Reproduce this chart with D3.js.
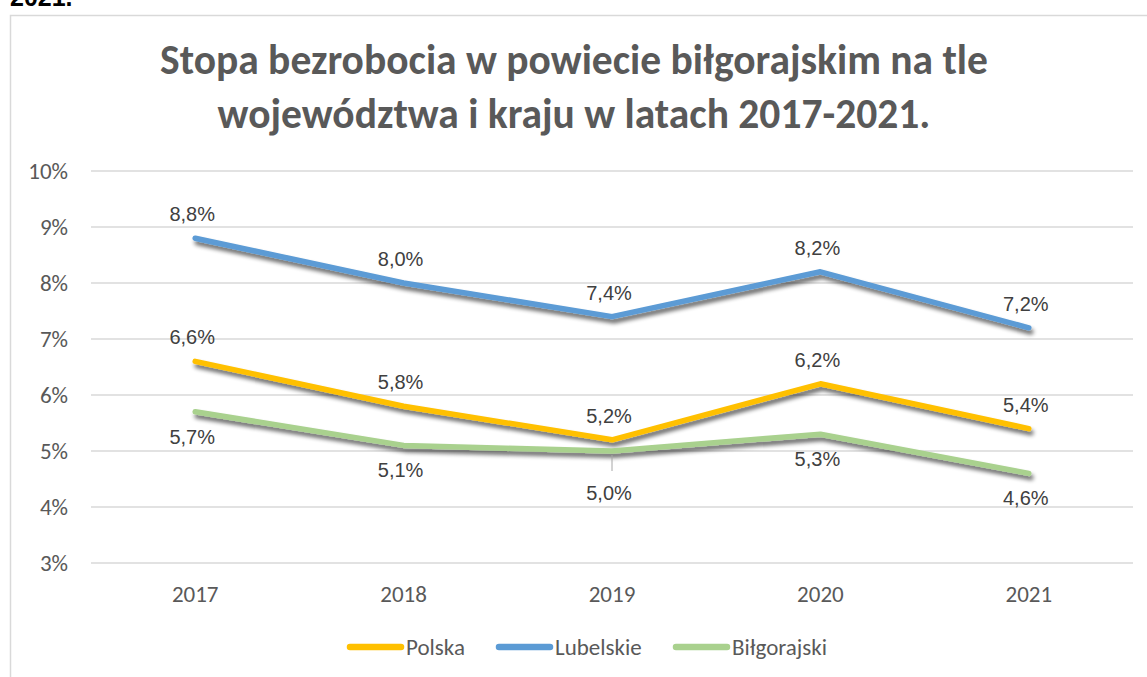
<!DOCTYPE html>
<html>
<head>
<meta charset="utf-8">
<script src="https://cdn.jsdelivr.net/npm/d3@7"></script>
<style>
  body { margin: 0; background: #fff; }
  svg { display: block; }
</style>
</head>
<body>
<svg id="chart" width="1147" height="677"></svg>
<script>
(function(){
	'use strict';

	var years = ['2017', '2018', '2019', '2020', '2021'];
	var polska = [6.6, 5.8, 5.2, 6.2, 5.4];
	var lubelskie = [8.8, 8.0, 7.4, 8.2, 7.2];
	var bilgorajski = [5.7, 5.1, 5.0, 5.3, 4.6];
	var yTicks = [3, 4, 5, 6, 7, 8, 9, 10];
	var titleLines = ['Stopa bezrobocia w powiecie biłgorajskim na tle', 'województwa i kraju w latach 2017-2021.'];

	var series = [
		{ name: 'Polska', values: polska, color: '#FFC000', above: true },
		{ name: 'Lubelskie', values: lubelskie, color: '#5B9BD5', above: true },
		{ name: 'Biłgorajski', values: bilgorajski, color: '#A9D18E', above: false }
	];

	var svg = d3.select('#chart');
	var grey = '#595959';
	var font = 'Carlito, Calibri, "Open Sans", sans-serif';
	var narrow = '"Liberation Sans Narrow", "Arial Narrow", sans-serif';

	// text from the page above the chart, cut off at the top
	svg.append('text')
		.text('2021.')
		.attr('x', 10).attr('y', 6)
		.attr('font-family', '"Liberation Sans", Arial, sans-serif')
		.attr('font-weight', 'bold')
		.attr('font-size', '25px')
		.attr('fill', '#000');

	// chart frame
	svg.append('rect')
		.attr('x', 10.5).attr('y', 15.5)
		.attr('width', 1160).attr('height', 700)
		.attr('fill', '#fff')
		.attr('stroke', '#d9d9d9')
		.attr('stroke-width', 1.5);

	var defs = svg.append('defs');
	var filter = defs.append('filter').attr('id', 'shadow')
		.attr('x', '-10%').attr('y', '-50%').attr('width', '120%').attr('height', '200%');
	filter.append('feGaussianBlur').attr('in', 'SourceAlpha').attr('stdDeviation', 2.2).attr('result', 'blur');
	filter.append('feOffset').attr('dx', 2).attr('dy', 3.5).attr('result', 'off');
	filter.append('feComponentTransfer').append('feFuncA').attr('type', 'linear').attr('slope', 0.6);
	var merge = filter.append('feMerge');
	merge.append('feMergeNode');
	merge.append('feMergeNode').attr('in', 'SourceGraphic');

	// title
	svg.append('g').selectAll('text')
		.data(titleLines)
		.enter().append('text')
		.text(function(d){ return d; })
		.attr('x', 574)
		.attr('y', function(d, i){ return 74 + i * 54; })
		.attr('text-anchor', 'middle')
		.attr('font-family', font)
		.attr('font-weight', 'bold')
		.attr('font-size', '41.5px')
		.attr('fill', grey);

	var x = d3.scaleBand().domain(years).range([91, 1133]);
	var y = d3.scaleLinear().domain([3, 10]).range([563, 171]);
	var cx = function(i){ return x(years[i]) + x.bandwidth() / 2; };

	// gridlines
	svg.append('g').selectAll('line')
		.data(yTicks)
		.enter().append('line')
		.attr('x1', 91).attr('x2', 1133)
		.attr('y1', function(d){ return y(d); })
		.attr('y2', function(d){ return y(d); })
		.attr('stroke', '#d9d9d9')
		.attr('stroke-width', 1.5);

	// y axis
	var yAxis = svg.append('g')
		.attr('transform', 'translate(72,0)')
		.call(d3.axisLeft(y).tickValues(yTicks).tickSize(0).tickPadding(4).tickFormat(function(d){ return d + '%'; }));
	yAxis.select('.domain').remove();
	yAxis.selectAll('text')
		.attr('font-family', font)
		.attr('font-size', '23px')
		.attr('fill', grey);

	// x axis
	var xAxis = svg.append('g')
		.attr('transform', 'translate(0,563)')
		.call(d3.axisBottom(x).tickSize(0).tickPadding(23));
	xAxis.select('.domain').remove();
	xAxis.selectAll('text')
		.attr('font-family', font)
		.attr('font-size', '23px')
		.attr('fill', grey);

	var line = d3.line()
		.x(function(d, i){ return cx(i); })
		.y(function(d){ return y(d); });

	svg.append('g').selectAll('path')
		.data(series)
		.enter().append('path')
		.attr('d', function(s){ return line(s.values); })
		.attr('fill', 'none')
		.attr('stroke', function(s){ return s.color; })
		.attr('stroke-width', 5.5)
		.attr('stroke-linecap', 'round')
		.attr('stroke-linejoin', 'round')
		.attr('filter', 'url(#shadow)');

	// leader line for the moved 2019 label
	svg.append('line')
		.attr('x1', cx(2)).attr('x2', cx(2))
		.attr('y1', y(bilgorajski[2]) + 4).attr('y2', y(bilgorajski[2]) + 20)
		.attr('stroke', '#a6a6a6')
		.attr('stroke-width', 1);

	// data labels
	var fmt = function(v){ return v.toFixed(1).replace('.', ',') + '%'; };
	series.forEach(function(s){
		svg.append('g').selectAll('text')
			.data(s.values)
			.enter().append('text')
			.text(fmt)
			.attr('x', function(d, i){ return cx(i) - 3; })
			.attr('y', function(d, i){
				if (s.above) return y(d) - 17;
				if (s.name === 'Biłgorajski' && i === 2) return y(d) + 49;
				return y(d) + 32;
			})
			.attr('text-anchor', 'middle')
			.attr('font-family', narrow)
			.attr('font-size', '20px')
			.attr('fill', '#404040');
	});

	// legend
	var legendX = [347, 496, 673];
	var legend = svg.append('g').selectAll('g')
		.data(series)
		.enter().append('g')
		.attr('transform', function(s, i){ return 'translate(' + legendX[i] + ',647)'; });
	legend.append('line')
		.attr('x1', 3).attr('x2', 54)
		.attr('stroke', function(s){ return s.color; })
		.attr('stroke-width', 6.5)
		.attr('stroke-linecap', 'round');
	legend.append('text')
		.text(function(s){ return s.name; })
		.attr('x', 59).attr('y', 8)
		.attr('font-family', font)
		.attr('font-size', '23px')
		.attr('fill', grey);
})();
</script>
</body>
</html>
